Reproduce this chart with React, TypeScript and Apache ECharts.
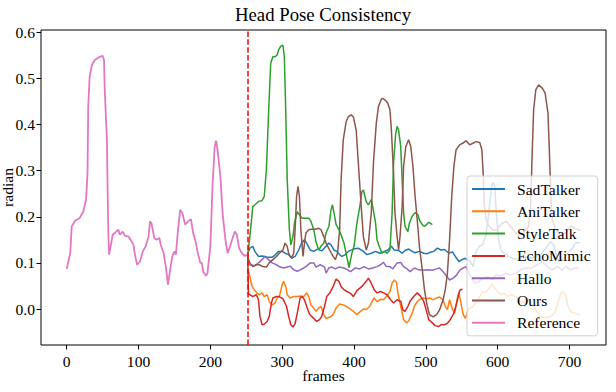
import React, { useEffect, useRef } from "react";
import * as echarts from "echarts";

const chartTitle = "Head Pose Consistency";
const xAxisName = "frames";
const yAxisName = "radian";
const xTicks = [0, 100, 200, 300, 400, 500, 600, 700];
const yTicks = [0.0, 0.1, 0.2, 0.3, 0.4, 0.5, 0.6];
const splitFrame = 252;

const seriesNames = ["SadTalker", "AniTalker", "StyleTalk", "EchoMimic", "Hallo", "Ours", "Reference"];
const seriesColors = ["#1f77b4", "#ff7f0e", "#2ca02c", "#d62728", "#9467bd", "#8c564b", "#e377c2"];

const reference: [number, number][] = [
  [0, 0.087], [5, 0.121], [7, 0.179], [12, 0.192], [18, 0.197], [23, 0.211], [27, 0.237], [29, 0.295],
  [30, 0.439], [32, 0.504], [35, 0.529], [39, 0.54], [45, 0.546], [50, 0.549], [52, 0.54], [53, 0.475],
  [56, 0.367], [57, 0.258], [58, 0.165], [59, 0.118], [62, 0.143], [64, 0.161], [69, 0.168], [72, 0.172],
  [74, 0.161], [78, 0.168], [81, 0.159], [86, 0.157], [89, 0.15], [93, 0.139], [95, 0.118], [98, 0.096],
  [102, 0.103], [106, 0.125], [110, 0.136], [114, 0.157], [116, 0.19], [118, 0.186], [122, 0.154],
  [125, 0.15], [129, 0.154], [131, 0.139], [135, 0.121], [138, 0.092], [141, 0.053], [144, 0.085],
  [147, 0.114], [150, 0.125], [152, 0.118], [155, 0.172], [158, 0.215], [161, 0.208], [165, 0.183],
  [169, 0.19], [173, 0.195], [176, 0.165], [180, 0.143], [182, 0.125], [186, 0.1], [188, 0.1], [190, 0.081],
  [194, 0.072], [196, 0.078], [200, 0.136], [203, 0.266], [206, 0.352], [208, 0.365], [210, 0.345],
  [214, 0.287], [217, 0.208], [221, 0.15], [224, 0.121], [228, 0.139], [231, 0.154], [234, 0.168],
  [237, 0.161], [240, 0.132], [244, 0.121], [248, 0.115], [252, 0.118]
];

const sadTalker: [number, number][] = [
  [252, 0.121], [255, 0.132], [259, 0.136], [262, 0.125], [267, 0.114], [272, 0.115], [276, 0.114],
  [281, 0.112], [286, 0.112], [290, 0.117], [295, 0.125], [300, 0.125], [304, 0.121], [309, 0.118],
  [313, 0.11], [318, 0.114], [323, 0.128], [327, 0.143], [331, 0.15], [334, 0.143], [339, 0.128],
  [344, 0.125], [349, 0.13], [355, 0.126], [361, 0.136], [365, 0.143], [368, 0.139], [372, 0.128],
  [376, 0.125], [380, 0.118], [383, 0.114], [388, 0.118], [392, 0.125], [399, 0.13], [406, 0.132],
  [413, 0.125], [418, 0.118], [424, 0.121], [430, 0.125], [436, 0.121], [441, 0.124], [447, 0.128],
  [452, 0.136], [456, 0.128], [462, 0.127], [467, 0.121], [471, 0.127], [476, 0.13], [481, 0.125],
  [485, 0.122], [491, 0.125], [497, 0.121], [502, 0.12], [506, 0.123], [511, 0.125], [516, 0.132],
  [521, 0.128], [526, 0.129], [532, 0.121], [537, 0.124], [541, 0.114], [546, 0.103], [550, 0.107],
  [555, 0.11], [562, 0.103], [566, 0.092], [569, 0.121], [574, 0.136], [579, 0.139], [583, 0.157],
  [586, 0.186], [589, 0.23], [592, 0.269], [594, 0.274], [596, 0.266], [598, 0.208], [601, 0.157],
  [604, 0.128], [609, 0.121], [616, 0.113], [623, 0.108], [630, 0.11], [639, 0.113], [646, 0.11],
  [652, 0.114], [660, 0.118], [669, 0.136], [674, 0.146], [679, 0.136], [683, 0.11], [687, 0.103],
  [692, 0.11], [698, 0.123], [704, 0.132], [708, 0.143], [715, 0.144]
];

const aniTalker: [number, number][] = [
  [252, 0.085], [255, 0.071], [258, 0.049], [261, 0.042], [265, 0.035], [268, 0.031], [272, 0.035],
  [275, 0.027], [279, 0.031], [282, 0.016], [286, 0.009], [290, 0.013], [293, 0.024], [296, 0.027],
  [300, 0.053], [302, 0.06], [305, 0.049], [307, 0.031], [311, 0.024], [316, 0.027], [321, 0.027],
  [325, 0.028], [330, 0.027], [334, 0.035], [337, 0.027], [340, 0.009], [344, 0.002], [347, -0.005],
  [351, 0.002], [354, 0.006], [358, -0.012], [361, -0.02], [366, -0.018], [371, -0.012], [375, 0.002],
  [380, 0.011], [385, 0.009], [389, 0.006], [395, 0.0], [399, -0.005], [404, -0.012], [409, -0.005],
  [413, 0.0], [417, -0.001], [422, 0.006], [425, 0.016], [428, 0.024], [432, 0.016], [437, 0.021],
  [441, 0.02], [445, 0.027], [450, 0.038], [453, 0.056], [456, 0.063], [459, 0.058], [462, 0.027],
  [466, -0.001], [469, -0.023], [473, -0.03], [476, -0.026], [481, -0.009], [484, 0.006], [488, 0.016],
  [491, 0.02], [496, 0.024], [501, 0.022], [505, 0.024], [510, 0.02], [515, 0.024], [519, 0.026],
  [524, 0.02], [527, 0.006], [530, -0.001], [533, 0.02], [537, -0.001], [540, -0.009], [544, 0.024],
  [546, 0.035], [548, 0.02], [552, -0.012], [555, -0.02], [560, 0.002], [565, 0.004], [569, 0.013],
  [574, 0.024], [579, 0.038], [583, 0.035], [588, 0.045], [592, 0.053], [595, 0.048], [600, 0.038],
  [604, 0.031], [609, 0.035], [613, 0.027], [620, 0.031], [625, 0.027], [631, 0.016], [637, 0.013],
  [642, 0.022], [646, 0.013], [653, -0.002], [660, -0.016], [667, -0.019], [674, -0.016], [679, -0.009],
  [684, 0.013], [687, 0.031], [691, 0.038], [695, 0.027], [698, 0.006], [702, -0.006], [708, -0.009],
  [714, -0.013]
];

const styleTalk: [number, number][] = [
  [252, 0.114], [256, 0.172], [259, 0.222], [262, 0.226], [267, 0.233], [272, 0.235], [275, 0.244],
  [278, 0.302], [281, 0.424], [284, 0.533], [287, 0.547], [290, 0.547], [293, 0.551], [295, 0.562],
  [298, 0.57], [301, 0.572], [303, 0.547], [305, 0.424], [307, 0.28], [310, 0.172], [312, 0.139],
  [315, 0.157], [317, 0.186], [321, 0.211], [324, 0.204], [328, 0.197], [332, 0.197], [337, 0.197],
  [340, 0.19], [344, 0.172], [347, 0.146], [351, 0.128], [354, 0.136], [358, 0.143], [361, 0.165],
  [365, 0.179], [368, 0.215], [370, 0.226], [373, 0.201], [375, 0.183], [379, 0.172], [382, 0.161],
  [386, 0.143], [389, 0.121], [393, 0.09], [397, 0.121], [400, 0.136], [404, 0.186], [408, 0.222],
  [411, 0.255], [413, 0.258], [417, 0.233], [420, 0.226], [424, 0.237], [426, 0.222], [430, 0.186],
  [432, 0.15], [436, 0.132], [439, 0.121], [442, 0.125], [446, 0.121], [450, 0.128], [453, 0.208],
  [455, 0.316], [458, 0.381], [460, 0.396], [462, 0.388], [465, 0.352], [467, 0.28], [469, 0.208],
  [471, 0.179], [475, 0.168], [477, 0.186], [481, 0.201], [485, 0.209], [489, 0.204], [491, 0.193],
  [495, 0.183], [498, 0.179], [501, 0.183], [504, 0.188], [506, 0.186], [509, 0.183]
];

const echoMimic: [number, number][] = [
  [252, 0.118], [253, 0.033], [255, 0.031], [259, 0.027], [264, 0.031], [267, 0.02], [269, -0.016],
  [272, -0.034], [275, -0.033], [279, -0.027], [282, -0.016], [285, 0.013], [287, 0.024], [292, 0.027],
  [296, 0.027], [301, 0.022], [306, 0.006], [309, -0.016], [312, -0.034], [315, -0.039], [318, -0.031],
  [321, -0.009], [325, 0.024], [328, 0.027], [331, 0.02], [334, 0.006], [338, -0.011], [341, -0.016],
  [345, -0.022], [348, -0.027], [352, -0.023], [355, -0.016], [359, 0.006], [362, 0.027], [366, 0.034],
  [371, 0.049], [375, 0.065], [379, 0.06], [382, 0.049], [386, 0.042], [390, 0.038], [395, 0.034],
  [399, 0.027], [404, 0.04], [411, 0.049], [417, 0.06], [420, 0.067], [424, 0.056], [428, 0.042],
  [432, 0.035], [437, 0.038], [441, 0.035], [446, 0.031], [451, 0.02], [455, 0.013], [460, 0.02],
  [465, 0.017], [468, -0.002], [471, -0.005], [475, 0.006], [478, 0.017], [483, 0.027], [488, 0.035],
  [492, 0.029], [497, 0.017], [501, -0.005], [504, -0.023], [509, -0.03], [513, -0.036], [518, -0.038],
  [521, -0.034], [526, -0.034], [530, -0.031], [534, -0.023], [539, -0.009], [543, 0.013], [546, 0.035],
  [548, 0.042], [551, 0.043]
];

const hallo: [number, number][] = [
  [252, 0.1], [255, 0.096], [262, 0.094], [267, 0.1], [272, 0.107], [276, 0.114], [281, 0.107],
  [286, 0.1], [292, 0.096], [297, 0.091], [302, 0.089], [307, 0.091], [311, 0.093], [316, 0.085],
  [321, 0.082], [325, 0.085], [330, 0.089], [334, 0.093], [339, 0.1], [344, 0.1], [347, 0.091],
  [353, 0.096], [359, 0.091], [361, 0.078], [365, 0.089], [369, 0.091], [374, 0.087], [379, 0.091],
  [386, 0.089], [391, 0.085], [395, 0.081], [402, 0.089], [408, 0.087], [414, 0.092], [420, 0.087],
  [426, 0.089], [432, 0.092], [437, 0.096], [441, 0.101], [445, 0.092], [450, 0.092], [454, 0.087],
  [460, 0.1], [465, 0.101], [469, 0.092], [474, 0.087], [478, 0.081], [484, 0.089], [490, 0.085],
  [496, 0.084], [502, 0.085], [509, 0.084], [515, 0.087], [519, 0.089], [524, 0.081], [529, 0.071],
  [533, 0.063], [538, 0.067], [543, 0.074], [547, 0.084], [552, 0.089], [556, 0.092], [560, 0.078],
  [565, 0.063], [569, 0.056], [574, 0.06], [579, 0.067], [586, 0.07], [593, 0.063], [597, 0.074],
  [604, 0.072], [611, 0.077], [618, 0.074], [625, 0.077], [632, 0.085], [639, 0.089], [646, 0.088],
  [655, 0.096], [662, 0.103], [669, 0.092], [676, 0.085], [683, 0.092], [690, 0.084], [695, 0.093],
  [700, 0.085], [706, 0.088], [713, 0.09]
];

const ours: [number, number][] = [
  [252, 0.114], [255, 0.1], [259, 0.092], [264, 0.096], [268, 0.096], [273, 0.092], [278, 0.091],
  [282, 0.1], [287, 0.107], [292, 0.114], [296, 0.121], [301, 0.128], [304, 0.143], [307, 0.136],
  [309, 0.121], [311, 0.114], [314, 0.114], [316, 0.121], [318, 0.172], [320, 0.244], [322, 0.266],
  [324, 0.244], [326, 0.172], [329, 0.114], [331, 0.143], [333, 0.165], [337, 0.172], [341, 0.173],
  [346, 0.173], [351, 0.175], [354, 0.172], [358, 0.157], [361, 0.143], [366, 0.128], [371, 0.114],
  [374, 0.107], [377, 0.121], [380, 0.172], [382, 0.28], [385, 0.367], [389, 0.406], [392, 0.417],
  [396, 0.421], [399, 0.417], [403, 0.388], [406, 0.316], [410, 0.222], [413, 0.157], [417, 0.128],
  [420, 0.143], [424, 0.208], [427, 0.316], [431, 0.403], [434, 0.439], [438, 0.455], [440, 0.457],
  [444, 0.452], [447, 0.446], [450, 0.432], [452, 0.388], [455, 0.295], [457, 0.208], [460, 0.157],
  [462, 0.128], [464, 0.157], [467, 0.222], [469, 0.309], [472, 0.352], [476, 0.367], [479, 0.352],
  [482, 0.309], [485, 0.244], [488, 0.193], [491, 0.136], [495, 0.085], [498, 0.042], [502, 0.006],
  [505, -0.012], [510, -0.017], [515, -0.012], [519, -0.002], [524, 0.02], [527, 0.042], [530, 0.078],
  [533, 0.15], [536, 0.244], [539, 0.309], [542, 0.345], [547, 0.356], [553, 0.361], [556, 0.365],
  [561, 0.356], [566, 0.36], [570, 0.363], [575, 0.361], [578, 0.345], [580, 0.287], [581, 0.23],
  [584, 0.193], [588, 0.179], [593, 0.172], [598, 0.17], [605, 0.185], [612, 0.19], [620, 0.175],
  [628, 0.16], [636, 0.165], [643, 0.179], [646, 0.23], [648, 0.338], [650, 0.432], [653, 0.475],
  [657, 0.486], [662, 0.479], [666, 0.468], [670, 0.425], [672, 0.338], [674, 0.244], [676, 0.193],
  [681, 0.172], [688, 0.16], [695, 0.165], [702, 0.18], [708, 0.175], [715, 0.17]
];

const seriesData = [sadTalker, aniTalker, styleTalk, echoMimic, hallo, ours, reference];

const FONT = '"Liberation Serif", "Times New Roman", serif';

export default function App() {
  const ref = useRef<HTMLDivElement>(null);
  useEffect(() => {
    document.body.style.margin = "0";
    if (!ref.current) return;
    const chart = echarts.init(ref.current, null, { renderer: "svg" });
    const series: any[] = seriesNames.map((name, i) => ({
      name,
      type: "line",
      data: seriesData[i],
      symbol: "none",
      showSymbol: false,
      color: seriesColors[i],
      lineStyle: { width: name === "Reference" ? 1.8 : 1.5, color: seriesColors[i] },
    }));
    series[series.length - 1].markLine = {
      silent: true,
      symbol: "none",
      label: { show: false },
      lineStyle: { color: "#ff0000", type: [5.5, 2.4], width: 1.5 },
      data: [{ xAxis: splitFrame }],
    };
    chart.setOption({
      animation: false,
      backgroundColor: "#ffffff",
      title: {
        text: chartTitle,
        left: 235,
        top: 5,
        padding: 0,
        textStyle: { fontFamily: FONT, fontSize: 18.75, fontWeight: "normal", color: "#000" },
      },
      grid: {
        left: 41,
        right: 10,
        top: 30,
        bottom: 47,
        containLabel: false,
        outerBoundsMode: "none",
        show: true,
        borderColor: "#000",
        borderWidth: 1,
        backgroundColor: "transparent",
      },
      legend: {
        orient: "vertical",
        left: 467,
        top: 176,
        padding: [5, 7, 5, 5],
        icon: "rect",
        itemWidth: 33,
        itemHeight: 2,
        itemGap: 6.3,
        backgroundColor: "rgba(255,255,255,0.8)",
        borderColor: "#d0d0d0",
        borderWidth: 1,
        borderRadius: 3,
        textStyle: { fontFamily: FONT, fontSize: 15.6, color: "#000", padding: [0, 0, 0, 7], lineHeight: 16 },
        data: seriesNames,
      },
      xAxis: {
        type: "value",
        min: -35.75,
        max: 750.75,
        name: xAxisName,
        nameLocation: "middle",
        nameGap: 22,
        nameMoveOverlap: false,
        nameTextStyle: { fontFamily: FONT, fontSize: 15.6, color: "#000" },
        axisLine: { show: false, onZero: false },
        splitLine: { show: false },
        axisTick: { show: true, customValues: xTicks, length: 4.5, lineStyle: { color: "#000", width: 1 } },
        axisLabel: {
          customValues: xTicks,
          margin: 8,
          fontFamily: FONT,
          fontSize: 15.6,
          color: "#000",
          formatter: (v: number) => String(v),
        },
      },
      yAxis: {
        type: "value",
        min: -0.078,
        max: 0.605,
        name: yAxisName,
        nameLocation: "middle",
        nameGap: 26,
        nameMoveOverlap: false,
        nameTextStyle: { fontFamily: FONT, fontSize: 15.6, color: "#000" },
        axisLine: { show: false, onZero: false },
        splitLine: { show: false },
        axisTick: { show: true, customValues: yTicks, length: 4.5, lineStyle: { color: "#000", width: 1 } },
        axisLabel: {
          customValues: yTicks,
          margin: 6,
          fontFamily: FONT,
          fontSize: 15.6,
          color: "#000",
          formatter: (v: number) => v.toFixed(1),
        },
      },
      series,
    });
    return () => chart.dispose();
  }, []);
  return <div ref={ref} style={{ width: 616, height: 392 }} />;
}
